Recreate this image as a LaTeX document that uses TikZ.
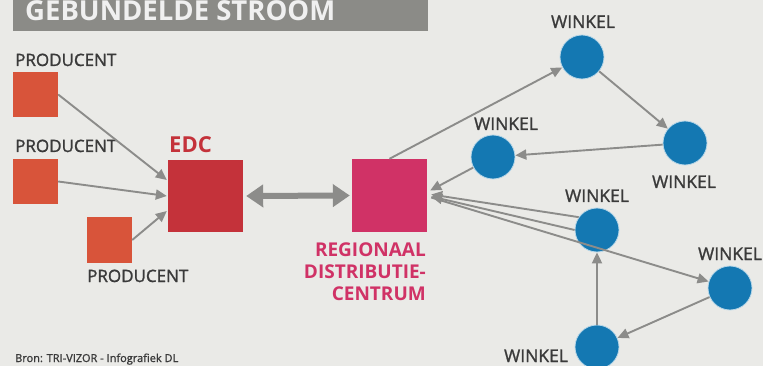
\documentclass[tikz,border=0pt]{standalone}
\usepackage{fontspec}
\setmainfont{Open Sans}
\newfontfamily\lblfont[FakeBold=1.3]{Open Sans}
\usetikzlibrary{arrows.meta,calc,positioning}
\definecolor{titlegray}{RGB}{139,139,135}
\definecolor{prodorange}{RGB}{216,84,58}
\definecolor{edcred}{RGB}{196,50,58}
\definecolor{rdcpink}{RGB}{208,50,102}
\definecolor{winkelblue}{RGB}{20,120,178}
\definecolor{arrowgray}{RGB}{140,140,138}
\definecolor{txtgray}{RGB}{58,58,58}
\definecolor{papergray}{RGB}{234,234,231}
\tikzset{
	prodbox/.style={fill=prodorange, minimum size=45pt, inner sep=0pt},
	winkel/.style={circle, fill=winkelblue, draw=winkelblue!30, line width=0.8pt, minimum size=44pt, inner sep=0pt},
	lbl/.style={text=txtgray, font=\lblfont\fontsize{17}{20}\selectfont, inner sep=0pt},
	winkeltxt/.style={lbl, anchor=base, font=\lblfont\fontsize{17.5}{20}\selectfont},
	flow/.style={draw=arrowgray, line width=1.9pt, -{Triangle[length=11pt,width=10pt]}},
	bigflow/.style={draw=arrowgray, line width=6pt, {Triangle[length=17pt,width=22pt]}-{Triangle[length=17pt,width=22pt]}}
}
\begin{document}
\begin{tikzpicture}[x=1pt, y=-1pt]
			%%%%% START %%%%%
			\useasboundingbox (0, 0) rectangle (763, 366);
			\fill[papergray] (0, 0) rectangle (763, 366);
			
			% title
			\fill[titlegray] (13, -5) rectangle (428, 31);
			\node[anchor=base west, inner sep=0pt, text=white!94!black, font=\fontsize{27.5}{30}\selectfont\bfseries] (title) at (25, 21) {GEBUNDELDE STROOM};
			
			% producenten
			\node[prodbox] (p1) at (35.5, 94.5) {};
			\node[prodbox] (p2) at (35.5, 181.5) {};
			\node[prodbox] (p3) at (109.5, 240) {};
			\node[lbl, anchor=base west] (p1txt) at (15, 66) {PRODUCENT};
			\node[lbl, anchor=base west] (p2txt) at (15, 152) {PRODUCENT};
			\node[lbl, anchor=base west] (p3txt) at (87, 282) {PRODUCENT};
			
			% distributiecentra
			\node[fill=edcred, minimum width=75pt, minimum height=72pt] (edc) at (205.5, 196) {};
			\node[anchor=base west, inner sep=0pt, text=edcred, font=\fontsize{22}{24}\selectfont\bfseries] (edctxt) at (169, 153) {EDC};
			\node[fill=rdcpink, minimum width=75pt, minimum height=73pt] (rdc) at (389.5, 195.5) {};
			\node[anchor=north east, align=right, inner sep=0pt, text=rdcpink, font=\fontsize{19}{22}\selectfont\bfseries] (rdctxt) at (426, 243) {REGIONAAL\\DISTRIBUTIE-\\CENTRUM};
			
			% winkels
			\node[winkel] (w1) at (582, 57) {};
			\node[winkel] (w2) at (685, 143) {};
			\node[winkel] (w3) at (493, 157) {};
			\node[winkel] (w4) at (597, 230) {};
			\node[winkel] (w5) at (730, 288) {};
			\node[winkel] (w6) at (597, 347) {};
			\node[winkeltxt] (w1txt) at (583, 28) {WINKEL};
			\node[winkeltxt] (w2txt) at (684, 188) {WINKEL};
			\node[winkeltxt] (w3txt) at (506, 130) {WINKEL};
			\node[winkeltxt] (w4txt) at (597, 202) {WINKEL};
			\node[winkeltxt] (w5txt) at (730, 260) {WINKEL};
			\node[winkeltxt] (w6txt) at (536, 362) {WINKEL};
			
			% stromen
			\draw[flow] (p1.east) -- ($(edc.west)+(-1, -16)$);
			\draw[flow] (p2.east) -- ($(edc.west)+(-1, 0)$);
			\draw[flow] (p3.east) -- ($(edc.west)+(-1, 15)$);
			\draw[bigflow] ($(edc.east)+(3, 0)$) -- ($(rdc.west)+(-2, 0)$);
			
			\draw[flow] (rdc.north) -- (w1);
			\draw[flow] (w1) -- (w2);
			\draw[flow] (w2) -- (w3);
			\draw[flow] (w3) -- ($(rdc.east)+(3, -5)$);
			\draw[flow] (w4.145) -- ($(rdc.east)+(4, -1)$);
			\draw[flow] (w4.180) -- ($(rdc.east)+(4, 1)$);
			\draw[flow] ($(rdc.east)+(4, 2)$) -- (w5);
			\draw[flow] (w5) -- (w6);
			\draw[flow] (w6) -- (w4);
			
			\node[anchor=base west, inner sep=0pt, text=txtgray, font=\lblfont\fontsize{11}{13}\selectfont] (bron) at (15, 362) {Bron: TRI-VIZOR - Infografiek DL};
			%%%%% END %%%%%
\end{tikzpicture}
\end{document}
